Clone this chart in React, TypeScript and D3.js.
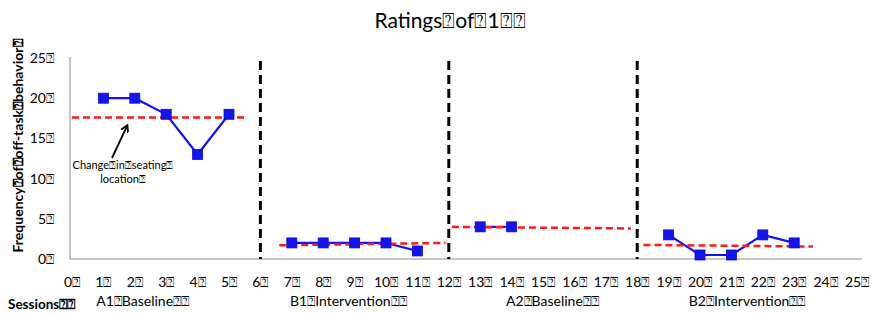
import React from "react";
import * as d3 from "d3";

const T = "\u2370";
const phaseA1 = [[1, 20], [2, 20], [3, 18], [4, 13], [5, 18]];
const phaseB1 = [[7, 2], [8, 2], [9, 2], [10, 2], [11, 1]];
const phaseA2 = [[13, 4], [14, 4]];
const phaseB2 = [[19, 3], [20, 0.5], [21, 0.5], [22, 3], [23, 2]];
const meanLines = [
  [[0, 17.6], [5.6, 17.6]],
  [[6.6, 1.7], [11.9, 2.0]],
  [[12.1, 4.0], [17.8, 3.8]],
  [[18.2, 1.75], [23.6, 1.55]],
];
const phaseChanges = [6, 12, 18];
const xTicks = d3.range(0, 26);
const yTicks = [0, 5, 10, 15, 20, 25];
const phaseLabels = [
  { label: "A1" + T + "Baseline" + T + T, x: 2.25 },
  { label: "B1" + T + "Intervention" + T + T, x: 8.8 },
  { label: "A2" + T + "Baseline" + T + T, x: 15.3 },
  { label: "B2" + T + "Intervention" + T + T, x: 21.5 },
];

export default function App() {
  const W = 881, H = 313;
  const x = d3.scaleLinear().domain([0, 25]).range([72, 857]);
  const y = d3.scaleLinear().domain([0, 25]).range([259, 58]);
  const line = d3.line<number[]>().x(d => x(d[0])).y(d => y(d[1]));
  const font = "Lato, 'Open Sans', sans-serif";
  const series = [phaseA1, phaseB1, phaseA2, phaseB2];
  return (
    <svg width={W} height={H} style={{ position: "absolute", left: 0, top: 0, background: "#fff" }} fontFamily={font}>
      <defs>
        <marker id="ah" markerWidth="8" markerHeight="8" refX="6" refY="4" orient="auto" markerUnits="userSpaceOnUse">
          <path d="M0,0 L7,4 L0,8" fill="none" stroke="#000" strokeWidth={1.8} />
        </marker>
      </defs>
      <text x={450} y={28} fontSize={21} textAnchor="middle" fill="#000">{"Ratings" + T + "of" + T + "1" + T + T}</text>
      <line x1={70} x2={70} y1={57} y2={y(0)} stroke="#8c8c8c" strokeWidth={1} />
      <line x1={70} x2={862} y1={y(0)} y2={y(0)} stroke="#8c8c8c" strokeWidth={1} />
      {yTicks.map(t => (
        <text key={t} x={54} y={y(t) + 5} fontSize={14} textAnchor="end" fill="#000">{t + T}</text>
      ))}
      {xTicks.map(t => (
        <text key={t} x={x(t)} y={287} fontSize={14} textAnchor="middle" fill="#000">{t + T}</text>
      ))}
      <text transform={`translate(23,${146}) rotate(-90)`} fontSize={14} fontWeight="bold" textAnchor="middle" fill="#000">
        {"Frequency" + T + "of" + T + "off-task" + T + "behavior" + T}
      </text>
      <text x={8} y={309} fontSize={13.5} fontWeight="bold" fill="#000">{"Sessions" + T + T}</text>
      {phaseLabels.map(p => (
        <text key={p.label} x={x(p.x)} y={306} fontSize={14} textAnchor="middle" fill="#000">{p.label}</text>
      ))}
      {phaseChanges.map(p => (
        <line key={p} x1={x(p)} x2={x(p)} y1={61} y2={y(0)} stroke="#000" strokeWidth={3} strokeDasharray="9,5" />
      ))}
      {series.map((s, i) => (
        <path key={i} d={line(s) || ""} fill="none" stroke="#1010ff" strokeWidth={2.2} />
      ))}
      {meanLines.map((m, i) => (
        <path key={i} d={line(m) || ""} fill="none" stroke="#ff1a1a" strokeWidth={2.5} strokeDasharray="7,4" />
      ))}
      {series.flat().map((d, i) => (
        <rect key={i} x={x(d[0]) - 5} y={y(d[1]) - 5} width={10} height={10} fill="#1414f0" stroke="#0a0ad0" strokeWidth={0.8} />
      ))}
      <line x1={112} y1={158} x2={127} y2={126} stroke="#000" strokeWidth={1.8} markerEnd="url(#ah)" />
      <text x={123} y={169} fontSize={11} textAnchor="middle" fill="#000">{"Change" + T + "in" + T + "seating" + T}</text>
      <text x={123} y={183} fontSize={11} textAnchor="middle" fill="#000">{"location" + T}</text>
    </svg>
  );
}
